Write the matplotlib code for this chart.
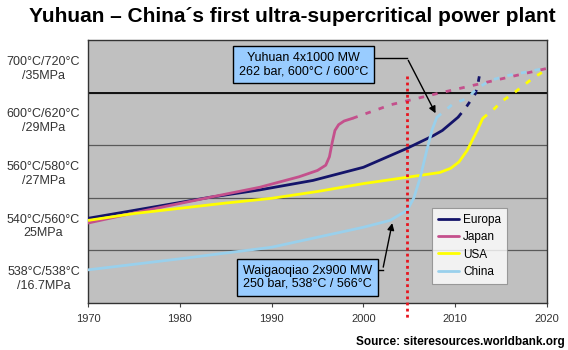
import matplotlib
matplotlib.use("Agg")
import matplotlib.pyplot as plt

plt.rcParams['font.family'] = ['Liberation Sans', 'DejaVu Sans']

# ---- data ----
years_ticks = [1970, 1980, 1990, 2000, 2010, 2020]
level_labels = ["538°C/538°C\n/16.7MPa", "540°C/560°C\n25MPa", "560°C/580°C\n/27MPa",
                "600°C/620°C\n/29MPa", "700°C/720°C\n/35MPa"]
level_pos = [0.5, 1.5, 2.5, 3.5, 4.5]
grid_levels = [1, 2, 3, 4]

europa_x = [1970, 1983.3, 1988.7, 1994.5, 2000, 2004.75, 2007.6, 2008.6, 2010.3]
europa_y = [1.61, 2.01, 2.15, 2.33, 2.58, 2.94, 3.18, 3.28, 3.53]
europa_fx = [2010.3, 2011.1, 2012.2, 2012.5, 2012.7]
europa_fy = [3.53, 3.70, 3.98, 4.19, 4.38]

japan_x = [1970, 1976, 1983.3, 1988.7, 1993.0, 1995.0, 1995.9, 1996.3, 1996.6, 1996.9, 1997.3, 1997.9, 1998.8]
japan_y = [1.52, 1.75, 2.01, 2.20, 2.40, 2.52, 2.62, 2.78, 3.05, 3.28, 3.39, 3.46, 3.51]
japan_fx = [1998.8, 2003.0, 2008.0, 2013.0, 2020.0]
japan_fy = [3.51, 3.77, 3.98, 4.18, 4.46]

usa_x = [1970, 1975, 1980, 1985, 1990, 1995, 2000, 2004.75, 2008.3, 2009.5, 2010.4, 2011.3, 2012.4, 2013.0]
usa_y = [1.57, 1.70, 1.80, 1.90, 1.99, 2.12, 2.27, 2.39, 2.48, 2.56, 2.68, 2.90, 3.28, 3.51]
usa_fx = [2013.0, 2014.3, 2015.2, 2016.3, 2017.4, 2018.5, 2019.8]
usa_fy = [3.51, 3.70, 3.85, 3.98, 4.13, 4.28, 4.42]

china_x = [1970, 1980, 1990, 2000, 2002.9, 2004.75, 2005.5, 2006.2, 2006.9, 2007.5, 2008.0]
china_y = [0.63, 0.84, 1.06, 1.44, 1.57, 1.76, 2.0, 2.39, 2.90, 3.30, 3.53]
china_fx = [2008.0, 2009.8, 2011.3, 2012.4, 2013.8, 2015.6, 2017.4, 2020.0]
china_fy = [3.53, 3.79, 3.89, 4.08, 4.23, 4.32, 4.38, 4.47]

marker_year = 2004.75

# ---- figure ----
fig = plt.figure(figsize=(5.68, 3.5), dpi=100)
ax = fig.add_axes([88/568, 47/350, 459/568, 263/350])
ax.set_facecolor('#c0c0c0')
ax.set_xlim(1970, 2020)
ax.set_ylim(0, 5)

colors = {'Europa': '#14146a', 'Japan': '#c4508c', 'USA': '#ffff00', 'China': '#99d0ec'}
lw = 2.0
dash = (2.0, 3.0)
series = [('Europa', europa_x, europa_y, europa_fx, europa_fy),
          ('Japan', japan_x, japan_y, japan_fx, japan_fy),
          ('USA', usa_x, usa_y, usa_fx, usa_fy),
          ('China', china_x, china_y, china_fx, china_fy)]
for name, sx, sy, fx, fy in series:
    ax.plot(sx, sy, color=colors[name], lw=lw, label=name, solid_capstyle='round',
            solid_joinstyle='round', zorder=3)
    ax.plot(fx, fy, color=colors[name], lw=lw, dashes=dash, zorder=3)

# grid
ax.set_yticks(level_pos)
ax.set_yticklabels(level_labels, fontsize=9, color='#333333')
for t in ax.get_yticklabels():
    t.set_ha('center')
    t.set_multialignment('center')
ax.tick_params(axis='y', which='major', length=0, pad=32)
ax.set_yticks(grid_levels, minor=True)
ax.tick_params(axis='y', which='minor', length=0)
ax.grid(True, axis='y', which='minor', color='#5a5a5a', lw=0.9)
ax.axhline(4, color='#111111', lw=1.4, zorder=2)

ax.set_xticks(years_ticks)
ax.set_xticklabels([str(y) for y in years_ticks], fontsize=8, color='#333333')
ax.tick_params(axis='x', length=3, pad=5, color='#444444')

for s in ax.spines.values():
    s.set_color('#333333')
    s.set_linewidth(1.0)

# red marker line
ax.plot([marker_year, marker_year], [4.32, -0.32], color='#e8141e', lw=2.0,
        linestyle=(0, (1, 1.2)), clip_on=False, zorder=4)

# annotations
box = dict(boxstyle='square,pad=0.45', fc='#99ccff', ec='black', lw=1.0)
ax.text(1993.5, 4.53, "Yuhuan 4x1000 MW\n262 bar, 600°C / 600°C", fontsize=9,
        ha='center', va='center', bbox=box, zorder=6, linespacing=1.15)
ax.plot([2001.1, 2004.75], [4.66, 4.66], color='black', lw=1.0, zorder=5)
ax.annotate('', xy=(2008.0, 3.56), xytext=(2004.75, 4.66),
            arrowprops=dict(arrowstyle='-|>', color='black', lw=1.0, mutation_scale=10), zorder=5)

ax.text(1993.9, 0.49, "Waigaoqiao 2x900 MW\n250 bar, 538°C / 566°C", fontsize=9,
        ha='center', va='center', bbox=box, zorder=6, linespacing=1.15)
ax.plot([2001.5, 2002.1], [0.63, 0.63], color='black', lw=1.0, zorder=5)
ax.annotate('', xy=(2003.2, 1.57), xytext=(2002.1, 0.63),
            arrowprops=dict(arrowstyle='-|>', color='black', lw=1.0, mutation_scale=10), zorder=5)

leg = ax.legend(loc='upper left', bbox_to_anchor=(0.75, 0.361), borderaxespad=0,
                fontsize=8.5, frameon=True, fancybox=False, handlelength=1.8,
                handletextpad=0.3, labelspacing=0.45, borderpad=0.5)
leg.get_frame().set_edgecolor('#888888')
leg.get_frame().set_linewidth(0.8)
leg.get_frame().set_facecolor('white')
leg.set_zorder(7)

fig.text(0.515, 1 - 16/350, "Yuhuan – China´s first ultra-supercritical power plant",
         ha='center', va='center', fontsize=15, fontweight='bold')
fig.text(565/568, 1 - 342/350, "Source: siteresources.worldbank.org",
         ha='right', va='center', fontsize=8.5, fontweight='bold')

fig.savefig('out.png', dpi=100)
